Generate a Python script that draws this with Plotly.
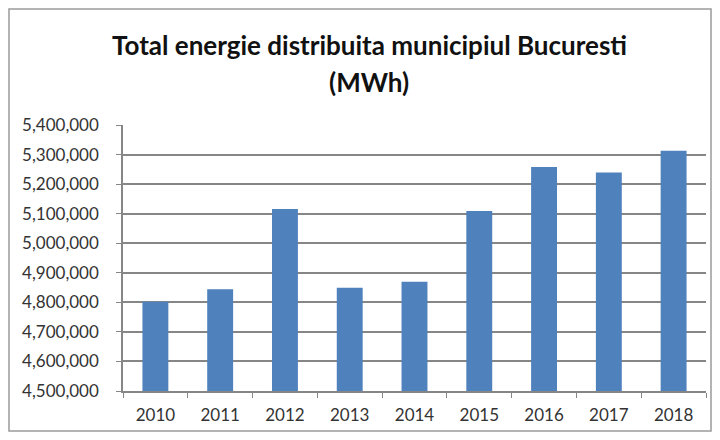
import plotly.graph_objects as go

years = ["2010", "2011", "2012", "2013", "2014", "2015", "2016", "2017", "2018"]
energy_mwh = [4802000, 4844000, 5116000, 4849000, 4870000, 5109000, 5258000, 5239000, 5313000]

title_line1 = "Total energie distribuita municipiul Bucuresti"
title_line2 = "(MWh)"

FONT = "Lato, 'Open Sans', sans-serif"

# The page body has an 8px margin, so the figure is sized to fit inside it.
OFF = 8
W, H = 704, 424
# plot area in page pixels: x 123..706, y 125..391
L, R, T, B = 123 - OFF, W - (706 - OFF), 125 - OFF, H - (391 - OFF)
pw, ph = W - L - R, H - T - B

def px_x(x):
    return (x - OFF - L) / pw

def px_y(y):
    return (H - B - (y - OFF)) / ph

fig = go.Figure(
    go.Bar(
        x=years,
        y=energy_mwh,
        marker=dict(color="#4F81BD", line=dict(width=0)),
        hoverinfo="x+y",
    )
)

fig.update_layout(
    width=W,
    height=H,
    margin=dict(l=L, r=R, t=T, b=B),
    paper_bgcolor="white",
    plot_bgcolor="white",
    bargap=0.60,
    showlegend=False,
    annotations=[
        dict(
            text=title_line1,
            xref="paper", yref="paper",
            x=px_x(369), y=px_y(45),
            xanchor="center", yanchor="middle",
            showarrow=False,
            font=dict(family=FONT, size=26, color="#111111", weight="bold"),
        ),
        dict(
            text=title_line2,
            xref="paper", yref="paper",
            x=px_x(369), y=px_y(82),
            xanchor="center", yanchor="middle",
            showarrow=False,
            font=dict(family=FONT, size=26, color="#111111", weight="bold"),
        ),
    ],
    shapes=[
        dict(
            type="rect", xref="paper", yref="paper",
            x0=px_x(9), x1=px_x(711), y0=px_y(431), y1=px_y(9),
            line=dict(color="#9a9a9a", width=1.5),
            fillcolor="rgba(0,0,0,0)",
            layer="below",
        )
    ],
)

fig.update_xaxes(
    type="category",
    showgrid=False,
    showline=True,
    linecolor="#868686",
    linewidth=1.5,
    ticks="outside",
    tickson="boundaries",
    ticklen=5,
    tickcolor="#868686",
    ticklabelstandoff=8,
    tickfont=dict(family=FONT, size=17, color="#333333"),
)

fig.update_yaxes(
    range=[4500000, 5400000],
    dtick=100000,
    tickformat=",",
    showgrid=True,
    gridcolor="#868686",
    gridwidth=1.5,
    showline=True,
    linecolor="#868686",
    linewidth=1.5,
    ticks="outside",
    ticklen=5,
    tickcolor="#868686",
    ticklabelstandoff=14,
    zeroline=False,
    tickfont=dict(family=FONT, size=17, color="#333333"),
)

fig.write_html("out.html")
